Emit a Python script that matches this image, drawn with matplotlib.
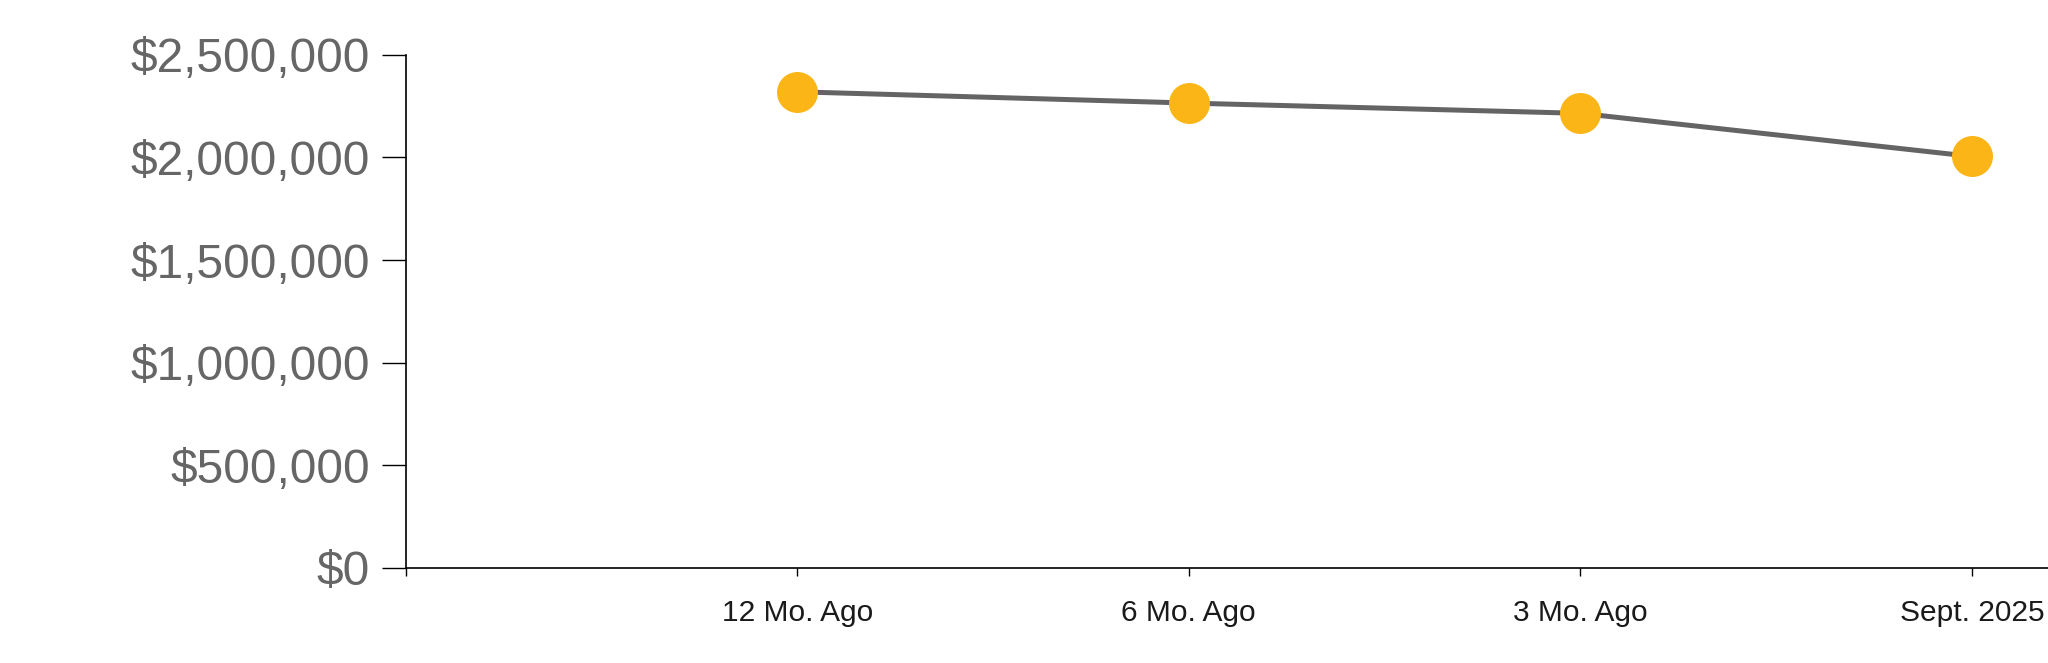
import matplotlib
matplotlib.use("Agg")
import matplotlib.pyplot as plt
from matplotlib.ticker import FuncFormatter

categories = ["12 Mo. Ago", "6 Mo. Ago", "3 Mo. Ago", "Sept. 2025"]
values = [2320000, 2265000, 2215000, 2005000]
y_ticks = [0, 500000, 1000000, 1500000, 2000000, 2500000]

plt.rcParams['font.family'] = ['Liberation Sans', 'DejaVu Sans']

fig = plt.figure(figsize=(20.48, 6.63), dpi=100)
ax = fig.add_axes([0.198, 0.1433, 0.802, 0.774])

xs = list(range(1, len(categories) + 1))
ax.plot(xs, values, color='#646464', linewidth=3.6, zorder=2, clip_on=False,
        solid_capstyle='butt')
ax.plot(xs, values, linestyle='none', marker='o', markersize=28.5,
        markerfacecolor='#FBB516', markeredgecolor='#FBB516', zorder=3, clip_on=False)

ax.set_xlim(0, 4.194)
ax.set_ylim(0, 2500000)
ax.set_xticks([0] + xs)
ax.set_xticklabels([""] + categories)
ax.set_yticks(y_ticks)
ax.yaxis.set_major_formatter(FuncFormatter(lambda v, p: "${:,.0f}".format(v)))

for s in ['top', 'right']:
    ax.spines[s].set_visible(False)
for s in ['left', 'bottom']:
    ax.spines[s].set_color('#000000')
    ax.spines[s].set_linewidth(1.2)

ax.tick_params(axis='y', length=17, width=1.0, color='#000000', pad=8.6,
               labelsize=34.5, labelcolor='#666666')
ax.tick_params(axis='x', length=6, width=1.0, color='#000000', pad=16,
               labelsize=21.5, labelcolor='#1a1a1a')

fig.savefig("out.png", dpi=100, facecolor='white')
